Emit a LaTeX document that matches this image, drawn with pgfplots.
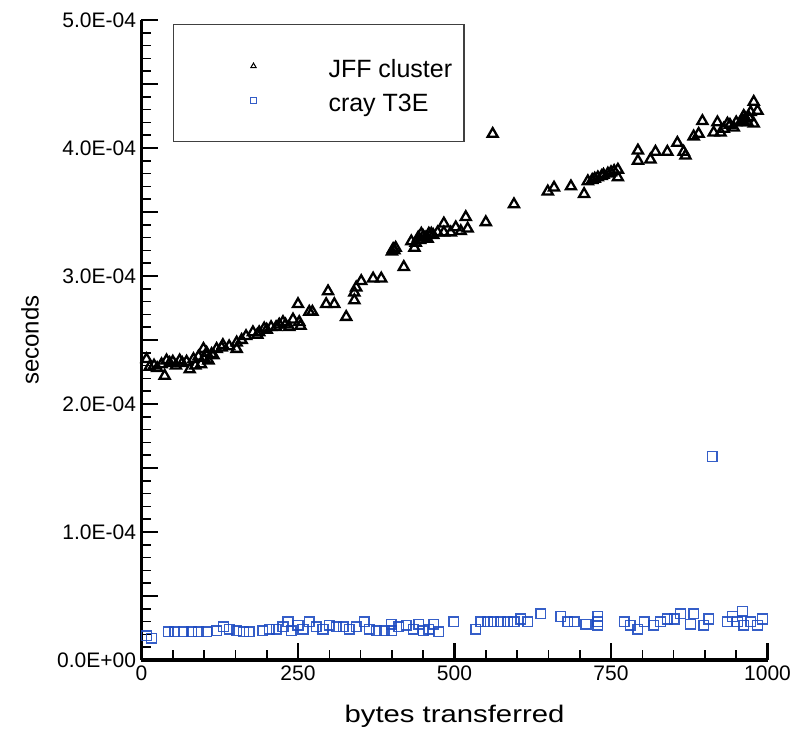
\documentclass[border=0pt]{standalone}
\usepackage{pgfplots}
\pgfplotsset{compat=1.18}
\usepackage{fontspec}
\setmainfont{Liberation Sans}
\definecolor{crayblue}{rgb}{0.12,0.30,0.76}
\begin{document}
\begin{tikzpicture}
\begin{axis}[
  name=ax,
  scale only axis,
  width=626pt, height=640pt,
  xmin=0, xmax=1000, ymin=0, ymax=500,
  axis x line=bottom, axis y line=left,
  every outer x axis line/.style={-, line width=3.6pt, black},
  every outer y axis line/.style={-, line width=3.6pt, black},
  tick align=inside,
  major tick length=17pt,
  minor tick length=10pt,
  every tick/.style={black, line width=2.4pt},
  minor tick style={line width=1.6pt},
  xtick={0,250,500,750,1000},
  xticklabels={0,250,500,750,1000},
  minor x tick num=4,
  ytick={0,50,100,150,200,250,300,350,400,450,500},
  yticklabels={0.0E+00,,1.0E-04,,2.0E-04,,3.0E-04,,4.0E-04,,5.0E-04},
  minor y tick num=4,
  ticklabel style={font=\fontsize{21}{24}\selectfont},
  xticklabel style={yshift=-2pt},
  yticklabel style={xshift=-2pt},
  xlabel={bytes transferred},
  ylabel={seconds},
  label style={font=\fontsize{24}{28}\selectfont},
  xlabel style={at={(axis description cs:0.5,-0.088)}, anchor=center, xscale=1.22},
  ylabel style={at={(axis description cs:-0.178,0.5)}, anchor=center},
  clip=false,
  legend cell align=left,
  legend style={
    at={(0.05,0.994)}, anchor=north west,
    font=\fontsize{25}{29}\selectfont,
    draw=black!75, line width=1.4pt,
    inner xsep=12pt, inner ysep=30pt,
    row sep=11pt,
    nodes={inner sep=0pt, text height=23pt, text depth=0pt},
  },
  legend image code/.code={
    \path[draw=none, fill=none] (-68pt,0pt) -- (75pt,0pt);
    \draw[#1, mark size=3pt, line width=1pt] plot coordinates {(0pt,0pt)};
  },
]
\addplot[only marks, mark=triangle, mark size=5.8pt, black, line width=2.3pt] table[x=b, y=t] {
b t
8 235
13 229
20 230
25 228
32 231
37 222
40 234
45 232
50 233
55 230
61 234
65 232
72 233
77 227
83 235
86 230
91 237
95 231
99 243
100 236
104 240
107 234
112 239
115 238
120 243
128 244
130 246
140 245
152 248
152 243
160 250
167 253
178 256
185 254
188 256
196 259
200 258
207 260
215 260
220 262
226 264
230 262
236 260
242 266
250 278
252 264
254 261
268 272
273 272
295 278
298 288
308 278
327 268
340 287
340 281
343 291
351 296
370 298
383 298
400 319
402 321
404 320
406 322
419 307
431 327
436 322
438 326
442 330
445 328
447 333
450 331
453 330
457 329
459 333
463 333
466 332
473 334
483 341
483 334
494 334
502 338
510 335
518 346
521 337
550 342
561 411
595 356
649 366
659 369
686 370
707 364
713 374
720 375
724 376
729 377
735 378
738 379
745 380
750 381
755 382
761 383
761 377
793 398
793 390
813 391
821 397
840 397
856 404
866 397
869 394
882 409
890 411
896 421
914 412
920 420
925 412
930 415
936 419
940 418
946 416
950 420
957 420
960 422
962 425
965 423
968 420
970 424
973 428
978 436
978 419
984 429
};
\addlegendentry{JFF cluster}
\addplot[only marks, mark=square, mark size=4.8pt, crayblue, line width=1.5pt, opacity=0.9] table[x=b, y=t] {
b t
8 19
16 17
43 22
53 22
67 22
80 22
91 22
104 22
120 23
131 26
140 24
152 23
163 22
172 22
194 23
204 24
215 24
226 26
234 30
239 23
250 27
258 24
268 30
279 26
290 24
300 27
311 26
322 26
332 24
343 26
356 30
364 24
375 23
388 23
399 28
400 23
411 26
423 27
434 24
443 28
450 23
459 24
467 28
475 22
499 30
534 24
542 30
553 30
563 30
574 30
585 30
595 30
606 32
617 30
638 36
670 34
681 30
691 30
710 28
729 34
729 30
729 27
771 30
781 27
793 24
803 30
818 27
829 30
840 32
851 32
861 36
877 28
882 36
898 27
906 32
912 159
936 30
944 34
952 30
960 38
962 27
973 30
984 27
992 32
};
\addlegendentry{cray T3E}
\end{axis}
\path ([xshift=-141.5pt, yshift=-80pt]ax.south west) rectangle ([xshift=31.5pt, yshift=20pt]ax.north east);
\end{tikzpicture}
\end{document}
